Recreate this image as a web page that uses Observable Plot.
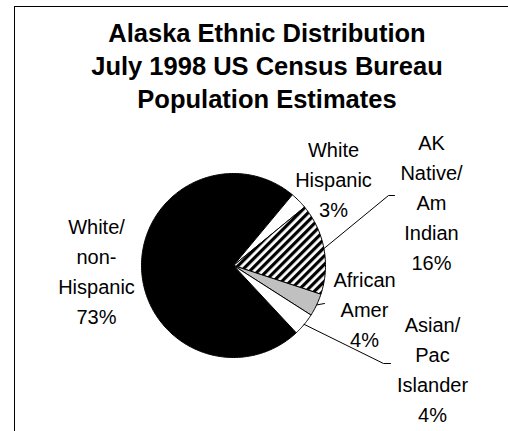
<!DOCTYPE html>
<html><head><meta charset="utf-8">
<script src="https://cdn.jsdelivr.net/npm/d3@7"></script>
<script src="https://cdn.jsdelivr.net/npm/@observablehq/plot@0.6"></script>
<style>
html,body{margin:0;padding:0;background:#fff;overflow:hidden;width:508px;height:431px;}
#wrap{position:relative;width:508px;height:431px;overflow:hidden;}
#chart{position:absolute;left:0;top:0;}
#frame{position:absolute;left:14px;top:6px;width:600px;height:600px;border-left:1.5px solid #000;border-top:1.5px solid #000;}
#title{position:absolute;left:14px;width:506px;top:17px;text-align:center;font:bold 25.5px "Liberation Sans",Arial,sans-serif;line-height:33px;color:#000;}
</style></head><body>
<div id="wrap"><div id="chart"></div><div id="frame"></div>
<div id="title">Alaska Ethnic Distribution<br>July 1998 US Census Bureau<br>Population Estimates</div></div>
<script>
// ---- data ----
const categories = ["White/\nnon-\nHispanic", "White\nHispanic", "AK\nNative/\nAm\nIndian", "African\nAmer", "Asian/\nPac\nIslander"];
const percents = [73, 3, 16, 4, 4];

// ---- style / layout ----
const fills = ["#000000", "#ffffff", "url(#hatch)", "#c0c0c0", "#ffffff"];
const R = 92;                       // pie radius (px units)
const START = 137 * Math.PI / 180;  // first slice start angle
// label first-line top, relative to pie centre (px, y up)
const labelAt = [[-137, 53], [100, 130], [198, 137], [131, 0], [199, -45]];
// leader line elbows relative to pie centre (px, y up)
const leaderAt = [null, null, [[155, 70], [161, 70]], [[91, -38]], [[150, -98], [157, -98]]];

const arcs = d3.pie().sort(null).startAngle(START).endAngle(START + 2 * Math.PI)(percents);
const polar = (a, r) => ({x: r * Math.sin(a), y: r * Math.cos(a)});

const sliceMarks = arcs.map((a, i) => {
  const pts = [{x: 0, y: 0}];
  const n = Math.max(2, Math.ceil((a.endAngle - a.startAngle) / (Math.PI / 180)));
  for (let k = 0; k <= n; k++) pts.push(polar(a.startAngle + (a.endAngle - a.startAngle) * k / n, R));
  pts.push({x: 0, y: 0});
  return Plot.line(pts, {x: "x", y: "y", fill: fills[i], stroke: "#000", strokeWidth: 1, strokeLinejoin: "round"});
});

const labels = arcs.map((a, i) => ({
  x: labelAt[i][0], y: labelAt[i][1],
  text: categories[i] + "\n" + percents[i] + "%"
}));

const leaders = [];
arcs.forEach((a, i) => {
  if (!leaderAt[i]) return;
  const mid = (a.startAngle + a.endAngle) / 2;
  const p = polar(mid, R);
  leaders.push({id: i, x: p.x, y: p.y});
  leaderAt[i].forEach(([x, y]) => leaders.push({id: i, x, y}));
});

const chart = Plot.plot({
  width: 508, height: 431,
  marginTop: 0, marginRight: 0, marginBottom: 0, marginLeft: 0,
  style: {background: "transparent"},
  x: {domain: [-233, 275], range: [0, 508], axis: null},
  y: {domain: [-166, 265], range: [431, 0], axis: null},
  marks: [
    ...sliceMarks,
    Plot.line(leaders, {x: "x", y: "y", z: "id", stroke: "#000", strokeWidth: 1}),
    Plot.text(labels, {x: "x", y: "y", text: "text", textAnchor: "middle", lineAnchor: "top",
      lineHeight: 1.5, fontSize: 20, fontFamily: "'Liberation Sans', Arial, sans-serif", fill: "#000"})
  ]
});

const ns = "http://www.w3.org/2000/svg";
const defs = document.createElementNS(ns, "defs");
defs.innerHTML = '<pattern id="hatch" patternUnits="userSpaceOnUse" width="6" height="6" patternTransform="rotate(45)">' +
  '<rect width="6" height="6" fill="#fff"/><rect width="3.2" height="6" fill="#000"/></pattern>';
chart.insertBefore(defs, chart.firstChild);
document.getElementById("chart").appendChild(chart);
</script>
</body></html>
